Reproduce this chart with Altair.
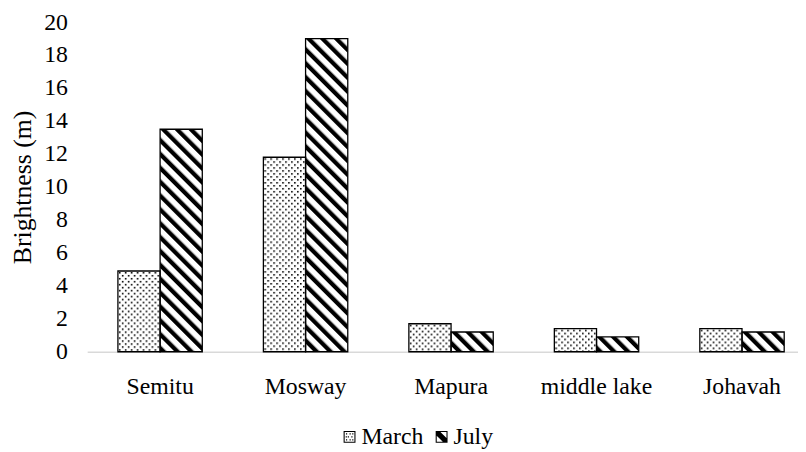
import base64
import altair as alt
import pandas as pd

# ---- data ----
categories = ["Semitu", "Mosway", "Mapura", "middle lake", "Johavah"]
series = ["March", "July"]
march = [4.9, 11.8, 1.7, 1.4, 1.4]
july = [13.5, 19.0, 1.2, 0.9, 1.2]
y_ticks = [0, 2, 4, 6, 8, 10, 12, 14, 16, 18, 20]

rows = []
for i, c in enumerate(categories):
    rows.append({"category": c, "series": "March", "value": march[i]})
    rows.append({"category": c, "series": "July", "value": july[i]})
df = pd.DataFrame(rows)

FONT = "'Liberation Serif', 'Times New Roman', Times, serif"
FS = 24


# ---- pattern fills (SVG images without intrinsic size, tiled 1:1) ----
def svg_uri(body):
    svg = ("<svg xmlns='http://www.w3.org/2000/svg' width='100%' height='100%'>"
           + body + "</svg>")
    return "data:image/svg+xml;base64," + base64.b64encode(svg.encode()).decode()


dots_uri = svg_uri(
    "<defs><pattern id='d' patternUnits='userSpaceOnUse' width='6' height='6'>"
    "<rect x='1' y='1' width='1.6' height='1.6' fill='#000'/>"
    "<rect x='4' y='4' width='1.6' height='1.6' fill='#000'/>"
    "</pattern></defs>"
    "<rect width='100%' height='100%' fill='#fff'/>"
    "<rect width='100%' height='100%' fill='url(#d)'/>"
)
stripes_uri = svg_uri(
    "<defs><pattern id='s' patternUnits='userSpaceOnUse' width='9.9' height='9.9' "
    "patternTransform='rotate(-45)'>"
    "<rect x='0' y='0' width='4.3' height='9.9' fill='#000'/>"
    "</pattern></defs>"
    "<rect width='100%' height='100%' fill='#fff'/>"
    "<rect width='100%' height='100%' fill='url(#s)'/>"
)


# ---- legend symbols as custom paths in the [-1, 1] box ----
def sq(x0, y0, x1, y1, reverse=False):
    pts = [(x0, y0), (x1, y0), (x1, y1), (x0, y1)]
    if reverse:
        pts = pts[::-1]
    return "M" + " L".join(f"{x:.3f},{y:.3f}" for x, y in pts) + " Z"


frame = sq(-1, -1, 1, 1) + " " + sq(-0.82, -0.82, 0.82, 0.82, reverse=True)
dot_pos = [(-0.5, -0.5), (0.1, -0.5), (-0.2, 0.0), (0.4, 0.0),
           (-0.5, 0.5), (0.1, 0.5), (0.55, -0.5), (-0.55, 0.0), (0.55, 0.5)]
march_path = frame + " " + " ".join(sq(x - 0.1, y - 0.1, x + 0.1, y + 0.1) for x, y in dot_pos)
band = [(-0.82, -0.82), (-0.2, -0.82), (0.82, 0.2), (0.82, 0.82), (0.2, 0.82), (-0.82, -0.2)]
july_path = frame + " M" + " L".join(f"{x:.3f},{y:.3f}" for x, y in band) + " Z"

base = alt.Chart(df).encode(
    x=alt.X(
        "category:N",
        sort=categories,
        scale=alt.Scale(paddingInner=0.42, paddingOuter=0.153, align=0.69),
        axis=alt.Axis(title=None, labelAngle=0, ticks=False, domainColor="#d9d9d9",
                      domainWidth=1.5, labelPadding=23),
    ),
    xOffset=alt.XOffset("series:N", sort=series,
                        scale=alt.Scale(paddingInner=0, paddingOuter=0)),
    y=alt.Y(
        "value:Q",
        scale=alt.Scale(domain=[0, 20], nice=False),
        axis=alt.Axis(title="Brightness (m)", values=y_ticks, grid=False, domain=False,
                      ticks=False, labelPadding=20, titlePadding=8, titleFontSize=26),
    ),
)

fills = base.mark_image(aspect=False).encode(
    y2=alt.datum(0),
    url=alt.condition(alt.datum.series == "March", alt.value(dots_uri), alt.value(stripes_uri)),
)

outlines = base.mark_bar(fillOpacity=0, stroke="black", strokeWidth=1.3)

legend_layer = base.mark_point(filled=True, opacity=1, color="black").encode(
    shape=alt.Shape(
        "series:N",
        scale=alt.Scale(domain=series, range=[march_path, july_path]),
        legend=alt.Legend(title=None, orient="none", legendX=253, legendY=407,
                          direction="horizontal", symbolSize=144, labelOffset=0,
                          columnPadding=6, padding=0, symbolStrokeWidth=0),
    )
).transform_filter("false")

chart = (
    alt.layer(fills, outlines, legend_layer)
    .properties(
        width=718,
        height=333,
        padding={"left": 80, "top": 12, "right": 0, "bottom": 99},
        autosize=alt.AutoSizeParams(type="none"),
    )
    .configure(font=FONT)
    .configure_axis(labelFont=FONT, labelFontSize=FS, labelColor="black",
                    titleFont=FONT, titleFontWeight="normal", titleColor="black")
    .configure_legend(labelFont=FONT, labelFontSize=FS, labelColor="black")
    .configure_view(stroke=None)
)

chart.save("out.html", embed_options={"renderer": "svg", "actions": False})
